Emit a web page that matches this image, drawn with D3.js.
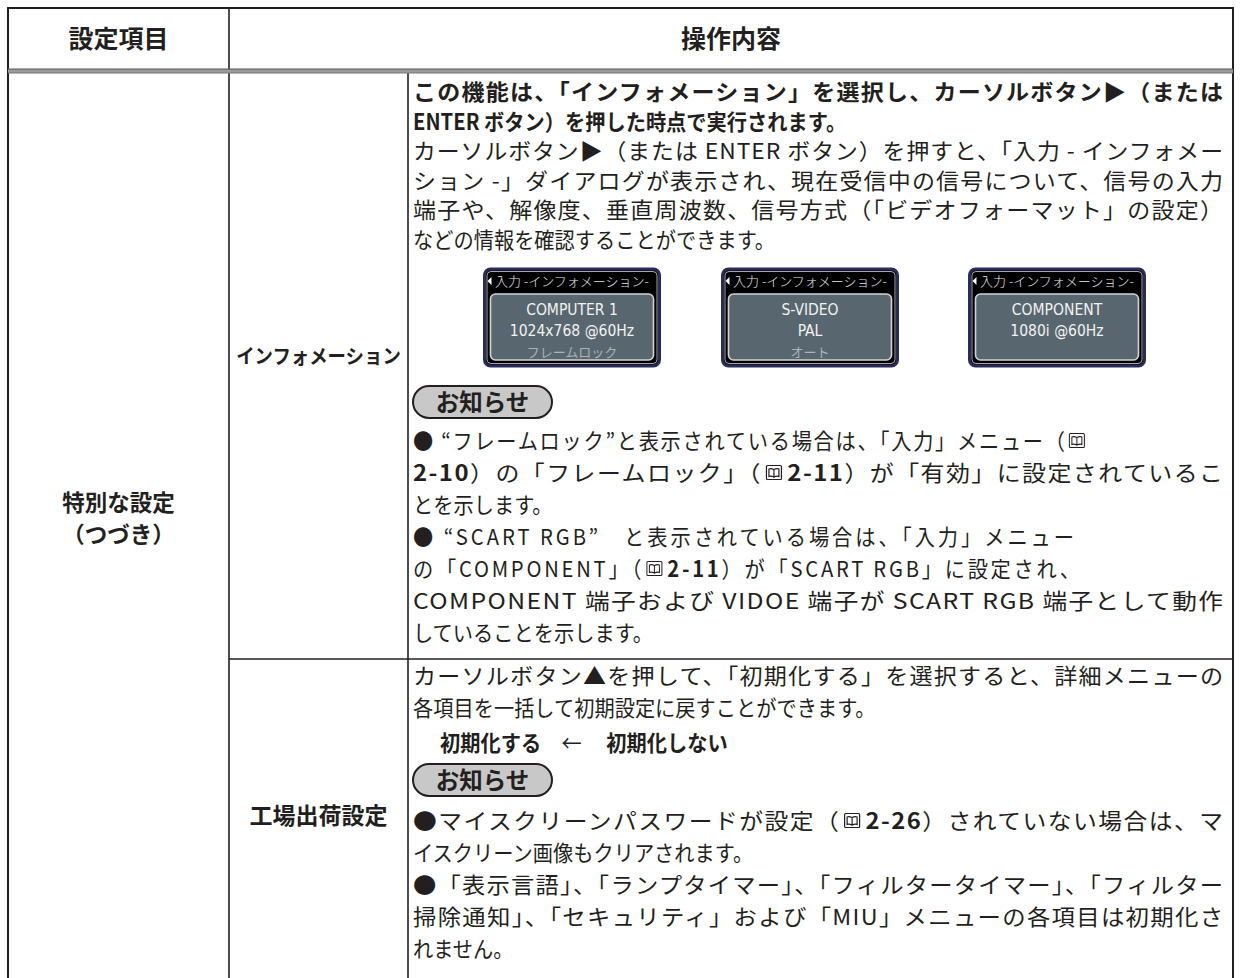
<!DOCTYPE html>
<html><head><meta charset="utf-8">
<script src="https://cdn.jsdelivr.net/npm/d3@7"></script>
<style>
html,body{margin:0;padding:0;background:#fff;}
svg{display:block;}
</style></head><body>
<svg id="c" width="1240" height="978"></svg>
<script>
// ---------- DATA ----------
const headers = ["設定項目", "操作内容"];
const groupLabel = ["特別な設定", "（つづき）"];
const itemNames = ["インフォメーション", "工場出荷設定"];
// "*" toggles bold, "@B" = reference-book icon
const infoText = [
  "*この機能は、「インフォメーション」を選択し、カーソルボタン▶（または",
  "*ENTER ボタン）を押した時点で実行されます。",
  "カーソルボタン▶（または ENTER ボタン）を押すと、「入力 - インフォメー",
  "ション -」ダイアログが表示され、現在受信中の信号について、信号の入力",
  "端子や、解像度、垂直周波数、信号方式（「ビデオフォーマット」の設定）",
  "などの情報を確認することができます。"
];
const osdTitle = "入力 -インフォメーション-";
const osdScreens = [
  ["COMPUTER 1", "1024x768 @60Hz", "フレームロック"],
  ["S-VIDEO", "PAL", "オート"],
  ["COMPONENT", "1080i @60Hz", ""]
];
const noteLabel = "お知らせ";
const infoNotes = [
  "● “フレームロック”と表示されている場合は、「入力」メニュー（@B",
  "*2-10*）の「フレームロック」（@B*2-11*）が「有効」に設定されているこ",
  "とを示します。",
  "● “SCART RGB”　と表示されている場合は、「入力」メニュー",
  "の「COMPONENT」（@B*2-11*）が「SCART RGB」に設定され、",
  "COMPONENT 端子および VIDOE 端子が SCART RGB 端子として動作",
  "していることを示します。"
];
const resetText = [
  "カーソルボタン▲を押して、「初期化する」を選択すると、詳細メニューの",
  "各項目を一括して初期設定に戻すことができます。"
];
const resetChoice = ["初期化する", "←", "初期化しない"];
const resetNotes = [
  "●マイスクリーンパスワードが設定（@B*2-26*）されていない場合は、マ",
  "イスクリーン画像もクリアされます。",
  "●「表示言語」、「ランプタイマー」、「フィルタータイマー」、「フィルター",
  "掃除通知」、「セキュリティ」および「MIU」メニューの各項目は初期化さ",
  "れません。"
];

// ---------- LAYOUT ----------
const svg = d3.select("#c");
const INK = "#231f20";
const JP = "'Noto Sans CJK JP','Noto Sans CJK SC',sans-serif";
const SX = 0.92;
const FS = 22;
const X0 = 8, X1 = 229, X2 = 408, X3 = 1233;
const Y0 = 8, YH = 72, YS = 659, YB = 978;
const TX = 413, TR = 1223;
// line-fit rules: "J" = justify to the column edge, number = set to that right edge, null = natural
const infoFit = ["J", null, "J", "J", "J", null];
const infoNotesFit = [1087, "J", null, 1074, 1080, "J", null];
const resetFit = ["J", null];
const resetNotesFit = ["J", null, "J", "J", null];

// line scales (index -> line center y)
const yInfo = d3.scaleLinear().domain([0, 1]).range([92, 121.5]);
const yInfoNotes = d3.scaleLinear().domain([0, 1]).range([441, 473]);
const yReset = d3.scaleLinear().domain([0, 1]).range([676, 708]);
const yResetNotes = d3.scaleLinear().domain([0, 1]).range([821, 853]);
const xOsd = d3.scaleOrdinal().domain(d3.range(osdScreens.length)).range([572, 810, 1057]);

function drawIcon(g, e, sx) {
  const w = 15 / sx, h = 14;
  const x = e.x + (e.width - w) / 2, y = -15.5;
  const ic = g.append("g").attr("fill", "none").attr("stroke", INK).attr("stroke-width", 1.1);
  ic.append("rect").attr("x", x).attr("y", y).attr("width", w).attr("height", h).attr("rx", 1);
  const m = x + w / 2, p = 2.5 / sx;
  ic.append("path").attr("d",
    `M${m},${y+4} Q${m-3/sx},${y+2.5} ${x+p},${y+3.5} L${x+p},${y+11} Q${m-3/sx},${y+10} ${m},${y+11.5} Z` +
    `M${m},${y+4} Q${m+3/sx},${y+2.5} ${x+w-p},${y+3.5} L${x+w-p},${y+11} Q${m+3/sx},${y+10} ${m},${y+11.5} Z`);
}

function drawLine(x, yc, str, fit) {
  const grp = svg.append("g");
  const t = grp.append("text").attr("x", 0).attr("y", 0)
    .attr("font-family", JP).attr("font-size", FS).attr("fill", INK)
    .attr("xml:space", "preserve").style("white-space", "pre");
  const segs = str.split("*");
  const icons = [];
  let idx = 0;
  segs.forEach((s, i) => {
    if (!s) return;
    let out = "";
    let k = 0;
    while (k < s.length) {
      if (s.substr(k, 2) === "@B") { icons.push(idx); out += "\u3000"; idx++; k += 2; }
      else { out += s[k]; idx++; k++; }
    }
    t.append("tspan").attr("font-weight", i % 2 === 1 ? "bold" : "normal").text(out);
  });
  let sx = SX;
  if (fit) {
    const right = fit === "J" ? TR : fit;
    const nat = t.node().getComputedTextLength();
    const ratio = (right - x) / (nat * SX);
    if (fit === "J" && ratio > 1) sx = SX * (1 + (ratio - 1) * 0.7);
    t.attr("textLength", (right - x) / sx).attr("lengthAdjust", "spacing");
  }
  grp.attr("transform", `translate(${x},${yc + 8}) scale(${sx},1)`);
  icons.forEach(ci => drawIcon(grp, t.node().getExtentOfChar(ci), sx));
  return t;
}

function drawBadge(x, y) {
  const w = 139, h = 32;
  svg.append("rect").attr("x", x).attr("y", y).attr("width", w).attr("height", h)
    .attr("rx", h / 2).attr("ry", h / 2).attr("fill", "#c8c8c8").attr("stroke", INK).attr("stroke-width", 2);
  svg.append("text").attr("x", x + w / 2).attr("y", y + h / 2 + 8.5)
    .attr("text-anchor", "middle").attr("font-family", JP).attr("font-size", 23.5)
    .attr("font-weight", "bold").attr("fill", INK).text(noteLabel);
}

function drawOsd(cx, y, lines) {
  const w = 175, h = 97, x = cx - w / 2;
  const g = svg.append("g");
  g.append("rect").attr("x", x).attr("y", y).attr("width", w).attr("height", h)
    .attr("rx", 6).attr("fill", "#000").attr("stroke", "#2b2b58").attr("stroke-width", 3);
  g.append("rect").attr("x", x + 2.5).attr("y", y + 2.5).attr("width", w - 5).attr("height", h - 5)
    .attr("rx", 4).attr("fill", "none").attr("stroke", "#cfd0d8").attr("stroke-width", 0.8);
  g.append("path").attr("d", `M${x+3},${y+12} L${x+7},${y+8} L${x+7},${y+16} Z`).attr("fill", "#fff");
  g.append("text").attr("x", cx).attr("y", y + 17).attr("text-anchor", "middle")
    .attr("font-family", JP).attr("font-size", 13).attr("font-weight", 300).attr("fill", "#e6e6e6")
    .text(osdTitle);
  g.append("rect").attr("x", x + 6).attr("y", y + 25).attr("width", w - 12).attr("height", h - 31)
    .attr("rx", 5).attr("fill", "#58676f").attr("stroke", "#d4d4d4").attr("stroke-width", 1.6);
  const lineY = d3.scaleLinear().domain([0, 1]).range([y + 46, y + 67]);
  lines.forEach((s, i) => {
    if (!s) return;
    g.append("text").attr("x", cx).attr("y", lineY(i)).attr("text-anchor", "middle")
      .attr("font-family", i === 2 ? JP : "'DejaVu Sans Condensed','Liberation Sans Narrow',sans-serif")
      .attr("font-size", i === 2 ? 13 : 15.5)
      .attr("fill", i === 2 ? "#aab4ba" : "#f2f2f2").text(s);
  });
}

// ---------- GRID ----------
const grid = svg.append("g").attr("stroke", INK).attr("fill", "none");
grid.append("path").attr("d", `M${X0},${YB} L${X0},${Y0} L${X3},${Y0} L${X3},${YB}`).attr("stroke-width", 2);
grid.append("line").attr("x1", X1).attr("x2", X1).attr("y1", Y0).attr("y2", YB).attr("stroke-width", 1.6);
grid.append("line").attr("x1", X2).attr("x2", X2).attr("y1", YH).attr("y2", YB).attr("stroke-width", 1.6);
grid.append("line").attr("x1", X1).attr("x2", X3).attr("y1", YS).attr("y2", YS).attr("stroke-width", 1.6);
svg.append("rect").attr("x", X0).attr("y", YH - 3).attr("width", X3 - X0).attr("height", 4).attr("fill", "#9a9a9a");
svg.append("line").attr("x1", X0).attr("x2", X3).attr("y1", YH - 3).attr("y2", YH - 3).attr("stroke", "#555").attr("stroke-width", 1);
svg.append("line").attr("x1", X0).attr("x2", X3).attr("y1", YH + 1).attr("y2", YH + 1).attr("stroke", "#777").attr("stroke-width", 1);

// ---------- HEADERS ----------
const headX = [(X0 + X1) / 2, (X1 + X3) / 2];
headers.forEach((h, i) => {
  svg.append("text").attr("x", headX[i]).attr("y", 48).attr("text-anchor", "middle")
    .attr("font-family", JP).attr("font-size", 25).attr("font-weight", "bold").attr("fill", INK).text(h);
});
groupLabel.forEach((s, i) => {
  svg.append("text").attr("x", (X0 + X1) / 2).attr("y", 511 + i * 32).attr("text-anchor", "middle")
    .attr("font-family", JP).attr("font-size", 22.5).attr("font-weight", "bold").attr("fill", INK).text(s);
});
const itemY = [356, 816];
itemNames.forEach((s, i) => {
  const g = svg.append("g").attr("transform", `translate(${(X1 + X2) / 2},${itemY[i] + 7.5}) scale(${i === 0 ? 0.92 : 1},1)`);
  g.append("text").attr("text-anchor", "middle").attr("font-family", JP)
    .attr("font-size", i === 0 ? 20 : 23).attr("font-weight", "bold").attr("fill", INK).text(s);
});

// ---------- ROW 1: インフォメーション ----------
infoText.forEach((s, i) => drawLine(TX, yInfo(i), s, infoFit[i]));
osdScreens.forEach((l, i) => drawOsd(xOsd(i), 269, l));
drawBadge(TX, 386);
infoNotes.forEach((s, i) => drawLine(TX, yInfoNotes(i), s, infoNotesFit[i]));

// ---------- ROW 2: 工場出荷設定 ----------
resetText.forEach((s, i) => drawLine(TX, yReset(i), s, resetFit[i]));
drawLine(TX + 27, 743, "*" + resetChoice[0] + "*\u3000" + resetChoice[1] + "\u3000 *" + resetChoice[2], null);
drawBadge(TX, 764);
resetNotes.forEach((s, i) => drawLine(TX, yResetNotes(i), s, resetNotesFit[i]));
</script>
</body></html>
